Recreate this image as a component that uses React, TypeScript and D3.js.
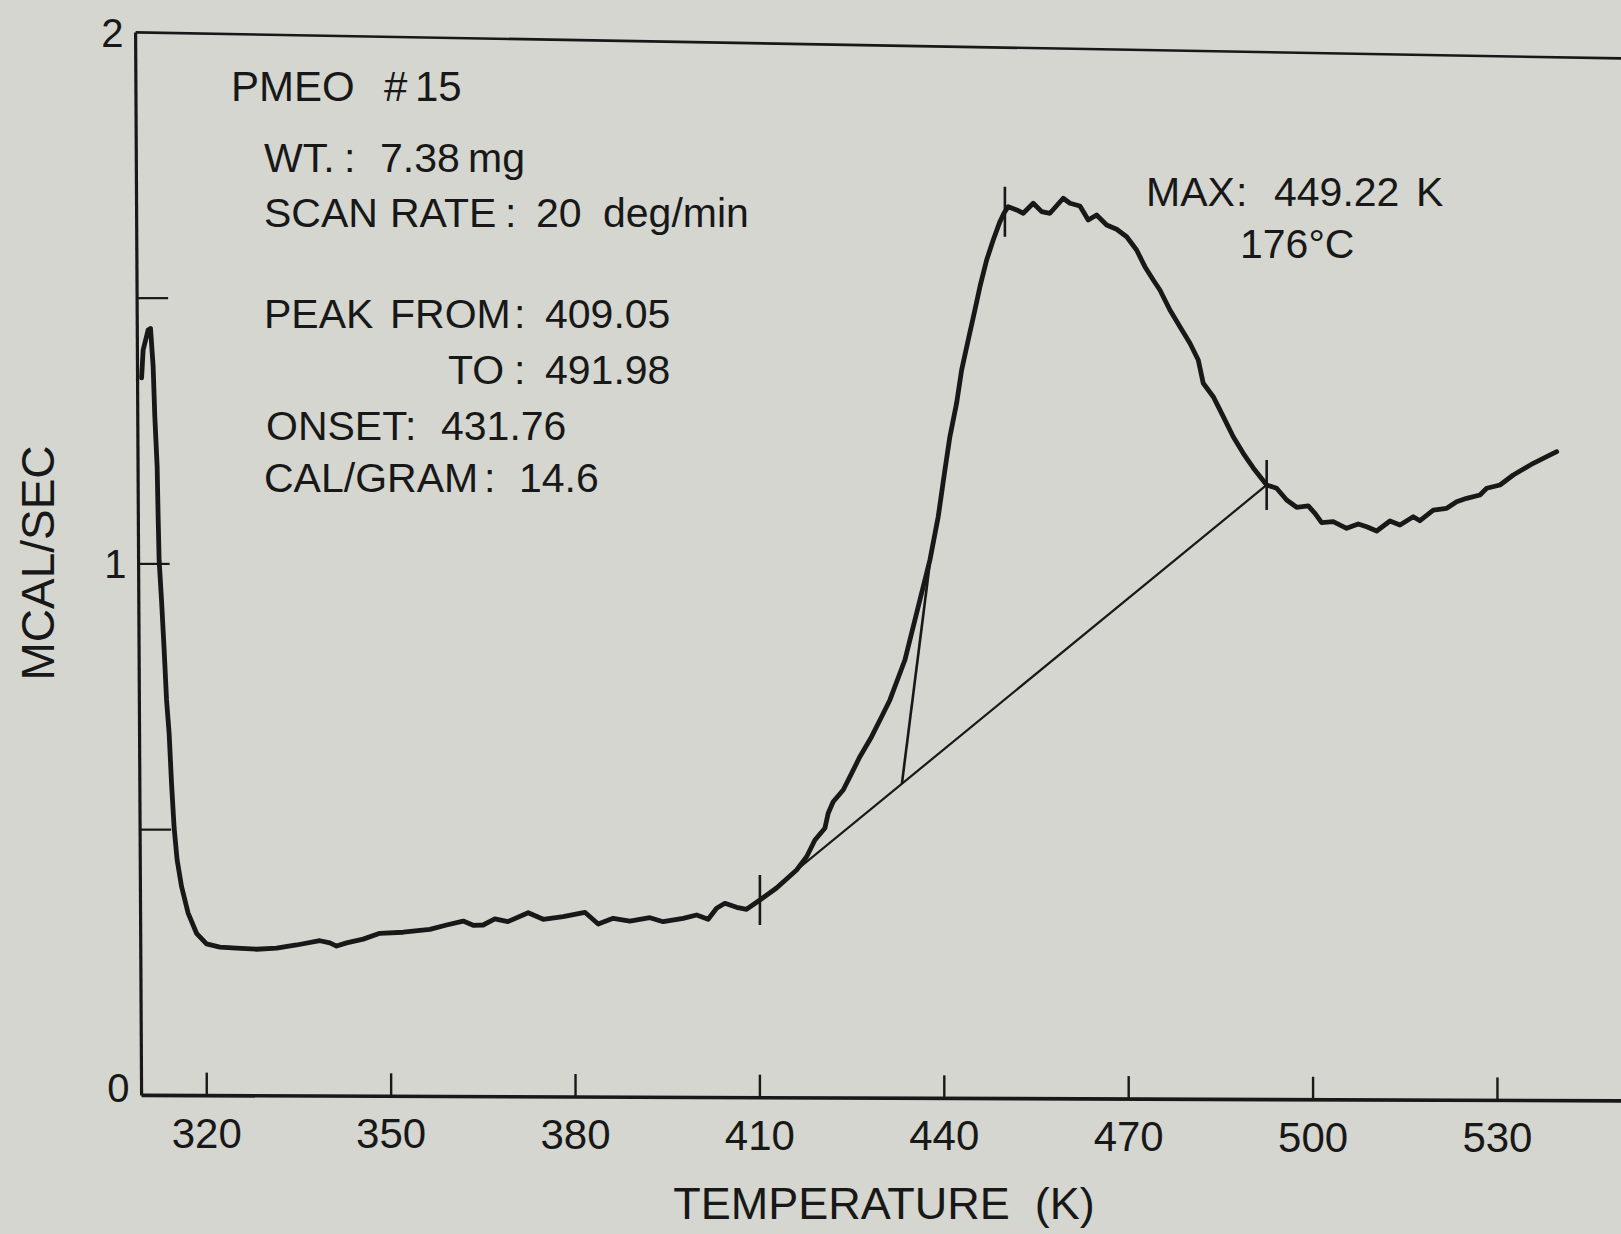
import React from 'react';
import * as d3 from 'd3';

// ---- data ----
const temperatureK = [
  309.4, 309.65, 310.46, 310.85, 311.28, 311.55, 311.93, 312.09, 312.25, 312.64,
  313.07, 313.46, 313.88, 314.27, 314.69, 315.18, 315.9, 316.97, 318.34, 319.96,
  322.13, 324.85, 328.1, 331.36, 334.61, 338.4, 340.03, 341.12, 342.75, 345.45,
  348.16, 351.96, 356.3, 359.02, 361.72, 363.35, 364.97, 366.88, 368.99, 372.3,
  374.74, 377.99, 381.52, 383.69, 386.13, 388.84, 392.1, 394.26, 397.52, 399.7,
  401.58, 402.95, 404.3, 406.21, 407.83, 410.0, 412.71, 415.97, 417.6, 418.95,
  420.57, 421.11, 421.92, 423.55, 424.92, 426.27, 428.17, 429.8, 431.15, 433.59,
  436.03, 437.66, 439.01, 440.1, 440.91, 442.0, 442.82, 443.89, 444.98, 445.8,
  446.89, 447.96, 449.05, 449.7, 450.4, 451.77, 452.84, 454.47, 455.84, 457.19,
  459.35, 460.44, 462.07, 463.42, 464.78, 466.41, 468.04, 469.67, 471.29, 472.64,
  474.0, 475.08, 476.71, 478.34, 479.97, 481.32, 482.13, 483.76, 485.39, 487.01,
  488.64, 490.27, 492.45, 494.07, 495.7, 497.33, 499.22, 500.31, 501.4, 503.28,
  505.46, 507.35, 508.72, 510.35, 512.51, 514.14, 516.3, 517.39, 519.56, 521.74,
  523.36, 524.99, 527.15, 528.25, 530.41, 532.57, 535.83, 538.01, 539.64,
];
const mcalPerSec = [
  1.35, 1.4025, 1.44, 1.443, 1.371, 1.277, 1.183, 1.089, 1.007, 0.932,
  0.838, 0.744, 0.681, 0.587, 0.504, 0.443, 0.393, 0.343, 0.305, 0.285,
  0.279, 0.277, 0.275, 0.277, 0.283, 0.291, 0.287, 0.281, 0.287, 0.294,
  0.305, 0.307, 0.3125, 0.3206, 0.328, 0.32, 0.3206, 0.332, 0.327, 0.3437,
  0.3313, 0.3362, 0.3445, 0.3225, 0.3332, 0.3281, 0.3343, 0.3268, 0.3332, 0.3394,
  0.3313, 0.352, 0.3614, 0.3539, 0.3501, 0.3676, 0.3902, 0.4241, 0.4491, 0.4805,
  0.5026, 0.5308, 0.5526, 0.5746, 0.606, 0.6373, 0.6749, 0.7125, 0.744, 0.8192,
  0.9321, 1.0073, 1.0888, 1.1767, 1.2393, 1.3022, 1.3648, 1.4213, 1.4777, 1.5216,
  1.5718, 1.6094, 1.6439, 1.6597, 1.6721, 1.6659, 1.6597, 1.6785, 1.6627, 1.6597,
  1.6879, 1.6785, 1.6734, 1.6471, 1.6565, 1.6377, 1.6296, 1.6156, 1.5906, 1.5592,
  1.5342, 1.5154, 1.4777, 1.4463, 1.4151, 1.3837, 1.3398, 1.3146, 1.277, 1.2393,
  1.2081, 1.1805, 1.1485, 1.1423, 1.1202, 1.1065, 1.109, 1.0952, 1.0775, 1.0794,
  1.067, 1.0751, 1.07, 1.0619, 1.0807, 1.0732, 1.0888, 1.0813, 1.1014, 1.1046,
  1.117, 1.1234, 1.1297, 1.1423, 1.1485, 1.1673, 1.1893, 1.2017, 1.2111,
];

const xTickValues = [320, 350, 380, 410, 440, 470, 500, 530];
const yLabelValues = [0, 1, 2];
const yTickMarks = [0.5, 1, 1.5];

// analysis marks (positions on the trace)
const peakFromT = 410.0;
const peakToT = 492.45;
const maxT = 449.86;
const onsetBaseT = 433.1;
const onsetTopT = 437.8;

// annotation text
const infoLines = [
  { tokens: [['PMEO', 0], ['#', 153], ['15', 184]], size: 42, x: 231, y: 101 },
  { tokens: [['WT.', 0], [':', 80], ['7.38', 116], ['mg', 204]], size: 41, x: 264, y: 172 },
  { tokens: [['SCAN', 0], ['RATE', 126], [':', 241], ['20', 272], ['deg/min', 339]], size: 41, x: 264, y: 227 },
  { tokens: [['PEAK', 0], ['FROM', 126], [':', 250], ['409.05', 281]], size: 41, x: 264, y: 328 },
  { tokens: [['TO', 184], [':', 250], ['491.98', 281]], size: 41, x: 264, y: 384 },
  { tokens: [['ONSET', 2], [':', 141], ['431.76', 177]], size: 41, x: 264, y: 440 },
  { tokens: [['CAL/GRAM', 0], [':', 220], ['14.6', 255]], size: 41, x: 264, y: 492 },
  { tokens: [['MAX', 0], [':', 90], ['449.22', 128], ['K', 270]], size: 41, x: 1146, y: 206 },
  { tokens: [['176°C', 0]], size: 41, x: 1240, y: 258 },
];

const W = 1621;
const H = 1234;
const BG = '#d4d6cf';
const INK = '#181818';
const FONT = '"Liberation Sans", Arial, Helvetica, sans-serif';

export default function App() {
  const x = d3.scaleLinear().domain([309.4, 550.1]).range([141.6, 1621]);
  const y = d3.scaleLinear().domain([0, 2]).range([1095.4, 32.4]);

  const pts: [number, number][] = temperatureK.map((t, i) => [t, mcalPerSec[i]]);
  const line = d3
    .line<[number, number]>()
    .x((d) => x(d[0]))
    .y((d) => y(d[1]))
    .curve(d3.curveLinear);

  const bis = d3.bisector((d: number) => d).left;
  const curveAt = (t: number) => {
    const i = Math.max(1, Math.min(temperatureK.length - 1, bis(temperatureK, t)));
    const t0 = temperatureK[i - 1];
    const t1 = temperatureK[i];
    const k = (t - t0) / (t1 - t0);
    return mcalPerSec[i - 1] + k * (mcalPerSec[i] - mcalPerSec[i - 1]);
  };
  const vFrom = curveAt(peakFromT);
  const vTo = curveAt(peakToT);
  const baselineAt = (t: number) => vFrom + ((t - peakFromT) / (peakToT - peakFromT)) * (vTo - vFrom);

  // slight skew of the scanned paper
  const axisBottomY = (px: number) => y(0) + (px - x(309.4)) * (5.5 / 1480);
  const axisLeftX = (py: number) => x(309.4) - (y(0) - py) * (6 / 1063);

  const x0 = x(309.4);

  return (
    <svg
      width={W}
      height={H}
      style={{ position: 'absolute', left: 0, top: 0, display: 'block', background: BG }}
    >
      <rect x={0} y={0} width={W} height={H} fill={BG} />

      {/* frame */}
      <line x1={x0} y1={y(0)} x2={axisLeftX(y(2))} y2={y(2)} stroke={INK} strokeWidth={3.2} />
      <line x1={x0} y1={y(0)} x2={W} y2={axisBottomY(W)} stroke={INK} strokeWidth={3.6} />
      <line x1={axisLeftX(y(2))} y1={y(2)} x2={W} y2={y(2) + 26} stroke={INK} strokeWidth={2.6} />

      {/* x ticks */}
      {xTickValues.map((t) => {
        const px = x(t);
        const by = axisBottomY(px);
        return (
          <g key={t}>
            <line x1={px} y1={by} x2={px} y2={by - 23} stroke={INK} strokeWidth={2.4} />
            <text
              x={px}
              y={by + 52}
              textAnchor="middle"
              fontFamily={FONT}
              fontSize={42}
              fill={INK}
            >
              {t}
            </text>
          </g>
        );
      })}

      {/* y ticks */}
      {yTickMarks.map((v) => {
        const py = y(v);
        const ax = axisLeftX(py);
        return <line key={v} x1={ax} y1={py} x2={ax + 31} y2={py} stroke={INK} strokeWidth={2.2} />;
      })}
      {yLabelValues.map((v) => {
        const py = Math.min(y(v), y(0) - 8);
        return (
          <text
            key={v}
            x={axisLeftX(py) - 12}
            y={py}
            dy="0.36em"
            textAnchor="end"
            fontFamily={FONT}
            fontSize={40}
            fill={INK}
          >
            {v}
          </text>
        );
      })}

      {/* axis titles */}
      <text
        x={884}
        y={1219}
        textAnchor="middle"
        fontFamily={FONT}
        fontSize={45}
        fill={INK}
        style={{ whiteSpace: 'pre' }}
      >
        {'TEMPERATURE  (K)'}
      </text>
      <text
        transform={`translate(54, 563) rotate(-90)`}
        textAnchor="middle"
        fontFamily={FONT}
        fontSize={46}
        fill={INK}
      >
        MCAL/SEC
      </text>

      {/* baseline & onset construction */}
      <line
        x1={x(peakFromT)}
        y1={y(vFrom)}
        x2={x(peakToT)}
        y2={y(vTo)}
        stroke={INK}
        strokeWidth={2.2}
      />
      <line
        x1={x(onsetBaseT)}
        y1={y(baselineAt(onsetBaseT))}
        x2={x(onsetTopT)}
        y2={y(curveAt(onsetTopT))}
        stroke={INK}
        strokeWidth={2.6}
      />

      {/* trace */}
      <path
        d={line(pts) || ''}
        fill="none"
        stroke={INK}
        strokeWidth={4.8}
        strokeLinejoin="round"
        strokeLinecap="round"
      />

      {/* markers */}
      {[peakFromT, maxT, peakToT].map((t) => {
        const py = y(curveAt(t));
        return (
          <line key={t} x1={x(t)} y1={py - 25} x2={x(t)} y2={py + 25} stroke={INK} strokeWidth={2.6} />
        );
      })}

      {/* annotations */}
      {infoLines.map((ln, i) => (
        <g key={i}>
          {ln.tokens.map(([s, dx], j) => (
            <text
              key={j}
              x={ln.x + (dx as number)}
              y={ln.y}
              fontFamily={FONT}
              fontSize={ln.size}
              fill={INK}
            >
              {s as string}
            </text>
          ))}
        </g>
      ))}
    </svg>
  );
}
